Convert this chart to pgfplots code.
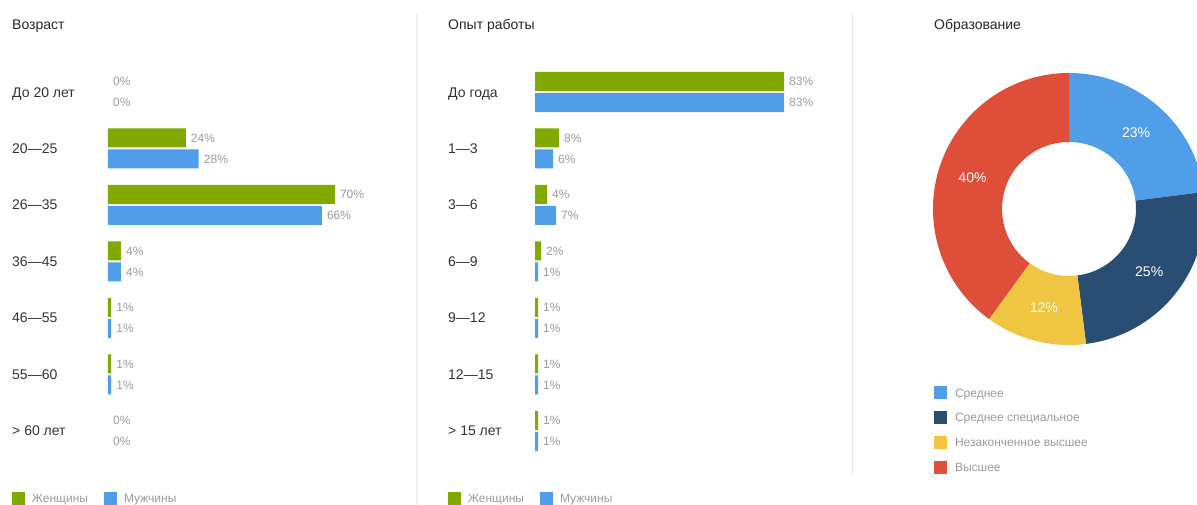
\documentclass[border=0pt]{standalone}
\usepackage{pgfplots}
\usepackage{pgfplotstable}
\pgfplotsset{compat=1.18}
\usepackage{fontspec}
\setmainfont{Liberation Sans}
\definecolor{fem}{HTML}{80AA00}
\definecolor{mal}{HTML}{509DE8}
\definecolor{navy}{HTML}{2A4D74}
\definecolor{yel}{HTML}{F0C541}
\definecolor{rd}{HTML}{DE4E39}
\definecolor{lbl}{HTML}{333333}
\definecolor{pct}{HTML}{9A9AA0}
\definecolor{sep}{HTML}{E8E8E8}

\pgfplotstableread{
y fem mal
6 0 0
5 24 28
4 70 66
3 4 4
2 1 1
1 1 1
0 0 0
}\agetable
\pgfplotstableread{
y fem mal
6 83 83
5 8 6
4 4 7
3 2 1
2 1 1
1 1 1
0 1 1
}\exptable

% education shares (%)
\def\dA{23}\def\dB{25}\def\dC{12}\def\dD{40}
\pgfmathsetmacro\aA{90}
\pgfmathsetmacro\aB{\aA-3.6*\dA}
\pgfmathsetmacro\aC{\aB-3.6*\dB}
\pgfmathsetmacro\aD{\aC-3.6*\dC}
\pgfmathsetmacro\aE{\aD-3.6*\dD}

\newcommand\slice[3]{%
  \fill[#1] (axis cs:{136*cos(#2)},{136*sin(#2)}) arc[start angle=#2, end angle=#3, radius=136pt]
    -- (axis cs:{67*cos(#3)},{67*sin(#3)}) arc[start angle=#3, end angle=#2, radius=67pt] -- cycle;}
\newcommand\slicelabel[3]{%
  \node[text=white, font=\fontsize{14}{16}\selectfont, inner sep=0pt] at (axis cs:{101.5*cos((#1+#2)/2)},{101.5*sin((#1+#2)/2)}) {#3\%};}

\pgfplotsset{
  barax/.style={
    anchor=south west, scale only axis, height=395.5pt,
    xmin=0, xmax=100, ymin=-0.5, ymax=6.5,
    xbar, bar width=19pt,
    axis x line=none, axis y line*=left, y axis line style={draw=none},
    ytick={0,...,6}, ytick style={draw=none}, major tick length=0pt,
    yticklabel style={anchor=west, inner sep=0pt, font=\fontsize{14}{16}\selectfont, text=lbl, text height=10pt, text depth=0pt},
    clip=false,
    point meta=x,
    nodes near coords={\pgfmathprintnumber{\pgfplotspointmeta}\%},
    /pgf/number format/assume math mode=true,
    every node near coord/.append style={font=\fontsize{12}{14}\selectfont, text=pct, anchor=west, inner sep=0pt, xshift=5pt, text height=8.6pt, text depth=0pt},
    legend columns=2,
    legend cell align=left,
    legend image code/.code={\fill[##1] (0pt,-6.5pt) rectangle (13pt,6.5pt);},
    legend style={at={(axis description cs:0,0)}, anchor=north west, yshift=-32.75pt,
      draw=none, fill=none, inner sep=0pt, outer sep=0pt,
      font=\fontsize{12}{14}\selectfont, text=pct,
      nodes={inner sep=0pt, text height=8.6pt, text depth=0pt},
      /tikz/every odd column/.append style={column sep=7pt},
      /tikz/every even column/.append style={column sep=16pt}},
  },
  nz/.style={x filter/.expression={x==0 ? nan : x}},
  zr/.style={x filter/.expression={x==0 ? x : nan}, draw=none, fill=none, forget plot, bar shift=#1},
}

\begin{document}
\begin{tikzpicture}
\useasboundingbox (0pt,0pt) rectangle (1197pt,505pt);
\clip (0pt,0pt) rectangle (1197pt,505pt);
\draw[sep, line width=1pt] (416.5pt,0pt) -- (416.5pt,491pt);
\draw[sep, line width=1pt] (852.5pt,30pt) -- (852.5pt,491pt);

\node[anchor=base west, inner sep=0pt, font=\fontsize{14}{16}\selectfont, text=black!85] at (12pt,475pt) {Возраст};
\node[anchor=base west, inner sep=0pt, font=\fontsize{14}{16}\selectfont, text=black!85] at (448pt,475pt) {Опыт работы};
\node[anchor=base west, inner sep=0pt, font=\fontsize{14}{16}\selectfont, text=black!85] at (934pt,475pt) {Образование};

\begin{axis}[barax, at={(108pt,45.75pt)}, width=324pt,
  yticklabels={> 60 лет,55—60,46—55,36—45,26—35,20—25,До 20 лет},
  yticklabel style={xshift=-96pt},
  legend style={xshift=-96pt}]
\addplot[fill=fem, draw=none, bar shift=10.5pt, nz] table[x=fem, y=y] {\agetable};
\addplot[fill=mal, draw=none, bar shift=-10.5pt, nz] table[x=mal, y=y] {\agetable};
\addplot[zr=10.5pt] table[x=fem, y=y] {\agetable};
\addplot[zr=-10.5pt] table[x=mal, y=y] {\agetable};
\legend{Женщины, Мужчины}
\end{axis}

\begin{axis}[barax, at={(535pt,45.75pt)}, width=300pt,
  yticklabels={> 15 лет,12—15,9—12,6—9,3—6,1—3,До года},
  yticklabel style={xshift=-87pt},
  legend style={xshift=-87pt}]
\addplot[fill=fem, draw=none, bar shift=10.5pt] table[x=fem, y=y] {\exptable};
\addplot[fill=mal, draw=none, bar shift=-10.5pt] table[x=mal, y=y] {\exptable};
\legend{Женщины, Мужчины}
\end{axis}

\begin{axis}[at={(1069pt,296pt)}, anchor=center, scale only axis,
  width=272pt, height=272pt, xmin=-136, xmax=136, ymin=-136, ymax=136,
  hide axis, clip=false,
  legend cell align=left,
  legend image code/.code={\fill[#1] (0pt,-6.5pt) rectangle (13pt,6.5pt);},
  legend style={at={(axis description cs:0,0)}, anchor=north west, xshift=1pt, yshift=-41.5pt,
    draw=none, fill=none, inner sep=0pt, outer sep=0pt, row sep=11.7pt,
    font=\fontsize{12}{14}\selectfont, text=pct,
    nodes={inner sep=0pt, text height=8.6pt, text depth=0pt},
    /tikz/every odd column/.append style={column sep=8pt}}]
\slice{mal}{\aA}{\aB}
\slice{navy}{\aB}{\aC}
\slice{yel}{\aC}{\aD}
\slice{rd}{\aD}{\aE}
\slicelabel{\aA}{\aB}{\dA}
\slicelabel{\aB}{\aC}{\dB}
\slicelabel{\aC}{\aD}{\dC}
\slicelabel{\aD}{\aE}{\dD}
\addlegendimage{fill=mal, draw=none}\addlegendentry{Среднее}
\addlegendimage{fill=navy, draw=none}\addlegendentry{Среднее специальное}
\addlegendimage{fill=yel, draw=none}\addlegendentry{Незаконченное высшее}
\addlegendimage{fill=rd, draw=none}\addlegendentry{Высшее}
\end{axis}
\end{tikzpicture}
\end{document}
